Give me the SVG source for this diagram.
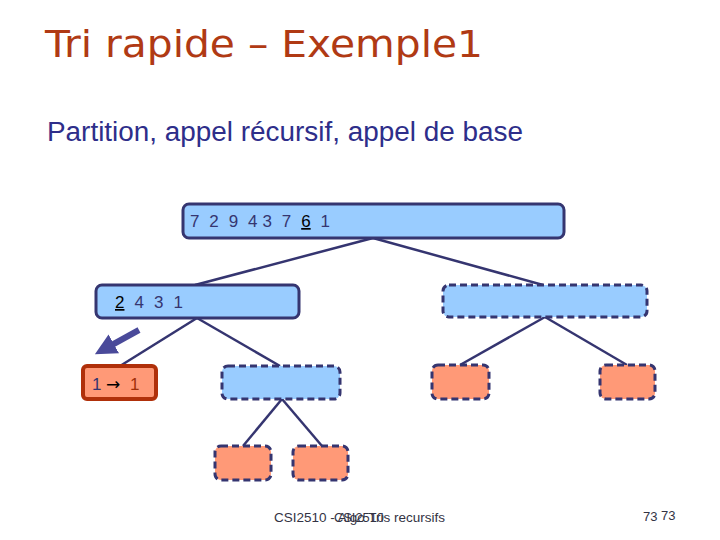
<svg xmlns="http://www.w3.org/2000/svg" width="720" height="540" viewBox="0 0 720 540">
<style>
.blue{fill:#99CCFF;stroke:#353570;stroke-width:3}
.org{fill:#FF9977;stroke:#353570;stroke-width:3}
.dash{stroke-dasharray:7 4}
.lbl{font-family:"Liberation Sans",Arial,sans-serif;font-size:17px;fill:#353570}
.conn line{stroke:#353570;stroke-width:2.5}
.foot{font-family:"Liberation Sans",Arial,sans-serif;font-size:13px;fill:#333344}
</style>
<defs>
<marker id="ah" viewBox="0 0 10 10" refX="2" refY="5" markerWidth="3.6" markerHeight="3.6" orient="auto" markerUnits="strokeWidth">
<path d="M0,0 L10,5 L0,10 z" fill="#4A4A9A"/>
</marker>
</defs>
<rect width="720" height="540" fill="#FFFFFF"/>
<text x="45" y="57" font-family="'Comic Sans MS','DejaVu Sans',sans-serif" font-size="38" fill="#B03A14" textLength="438" lengthAdjust="spacingAndGlyphs">Tri rapide – Exemple1</text>
<text x="47" y="141" font-family="'Liberation Sans',Arial,sans-serif" font-size="27" fill="#2E2E8A" textLength="476" lengthAdjust="spacingAndGlyphs">Partition, appel récursif, appel de base</text>

<g id="connectors" class="conn">
<line x1="373" y1="238" x2="195" y2="285"/>
<line x1="373" y1="238" x2="543" y2="285"/>
<line x1="197" y1="318" x2="120" y2="366"/>
<line x1="197" y1="318" x2="280" y2="366"/>
<line x1="545" y1="317" x2="460" y2="365"/>
<line x1="545" y1="317" x2="627" y2="365"/>
<line x1="282" y1="399" x2="243" y2="446"/>
<line x1="282" y1="399" x2="322" y2="446"/>
</g>

<g id="n-root">
<rect class="blue" x="183" y="204" width="381" height="34" rx="6"/>
<text class="lbl" x="190" y="227" xml:space="preserve" textLength="140" lengthAdjust="spacing">7  2  9  4 3  7  <tspan fill="#000" text-decoration="underline">6</tspan>  1</text>
</g>
<g id="n-left">
<rect class="blue" x="96" y="285" width="203" height="33" rx="6"/>
<text class="lbl" x="115" y="308" xml:space="preserve" textLength="68" lengthAdjust="spacing"><tspan fill="#000" text-decoration="underline">2</tspan>  4  3  1</text>
</g>
<g id="n-right">
<rect class="blue dash" x="443" y="285" width="204" height="32" rx="6"/>
</g>
<g id="n-base">
<rect x="83" y="366" width="73" height="33" rx="4" fill="#FF9977" stroke="#B0300A" stroke-width="4"/>
<text class="lbl" x="92" y="390">1</text>
<text x="106" y="390" font-family="'DejaVu Sans',sans-serif" font-size="17" fill="#000">→</text>
<text x="130" y="390" font-family="'Liberation Sans',Arial,sans-serif" font-size="17" fill="#A0300A">1</text>
</g>
<g id="n-lr">
<rect class="blue dash" x="222" y="366" width="118" height="33" rx="6"/>
</g>
<g id="n-rl">
<rect class="org dash" x="432" y="365" width="57" height="34" rx="6"/>
</g>
<g id="n-rr">
<rect class="org dash" x="600" y="365" width="55" height="34" rx="6"/>
</g>
<g id="n-lrl">
<rect class="org dash" x="215" y="446" width="56" height="34" rx="6"/>
</g>
<g id="n-lrr">
<rect class="org dash" x="293" y="446" width="55" height="34" rx="6"/>
</g>

<g id="pointer">
<line x1="139" y1="330" x2="110" y2="346" stroke="#4A4A9A" stroke-width="6" marker-end="url(#ah)"/>
</g>

<text class="foot" x="274" y="522" textLength="171" lengthAdjust="spacingAndGlyphs">CSI2510 - Algo Tris recursifs</text>
<text class="foot" x="334" y="522" textLength="50" lengthAdjust="spacingAndGlyphs">CSI2510</text>
<text class="foot" x="643" y="521">73</text>
<text class="foot" x="661" y="520">73</text>
</svg>
